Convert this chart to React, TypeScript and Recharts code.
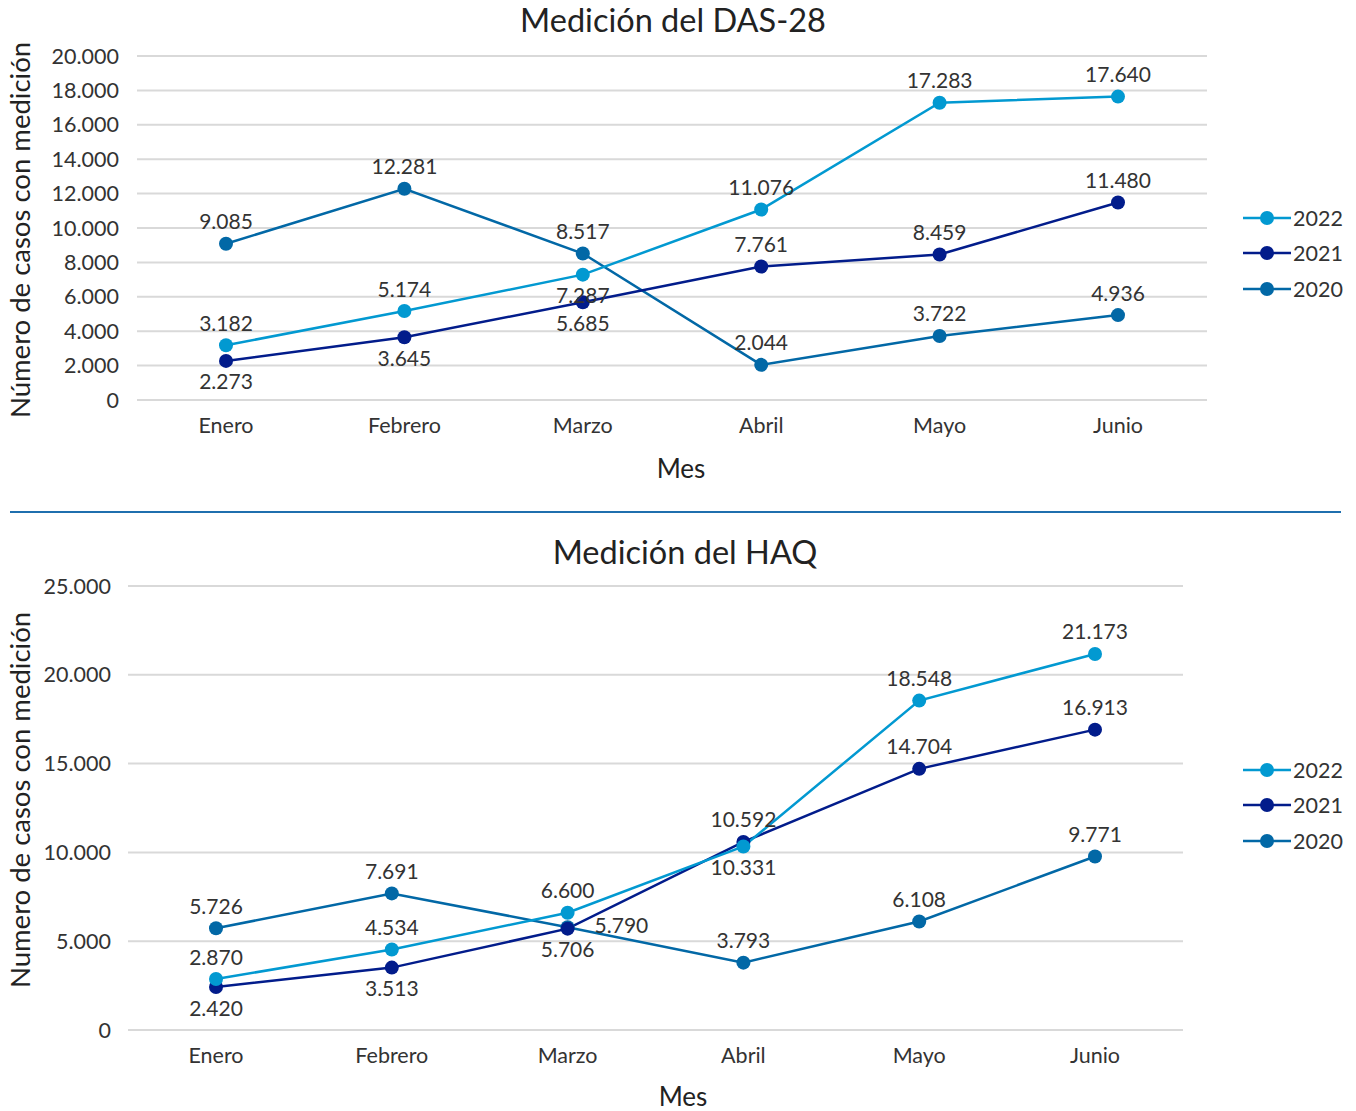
import { LineChart, Line, XAxis, YAxis, CartesianGrid, LabelList } from 'recharts';

// months on the x axis
const months = ['Enero', 'Febrero', 'Marzo', 'Abril', 'Mayo', 'Junio'];

// DAS-28
const das2022 = [3182, 5174, 7287, 11076, 17283, 17640];
const das2021 = [2273, 3645, 5685, 7761, 8459, 11480];
const das2020 = [9085, 12281, 8517, 2044, 3722, 4936];
const dasTicks = [0, 2000, 4000, 6000, 8000, 10000, 12000, 14000, 16000, 18000, 20000];

// HAQ
const haq2022 = [2870, 4534, 6600, 10331, 18548, 21173];
const haq2021 = [2420, 3513, 5706, 10592, 14704, 16913];
const haq2020 = [5726, 7691, 5790, 3793, 6108, 9771];
const haqTicks = [0, 5000, 10000, 15000, 20000, 25000];

// where each data label sits relative to its point
const dasPlace2022 = ['top', 'top', 'bottom', 'top', 'top', 'top'];
const dasPlace2021 = ['bottom', 'bottom', 'bottom', 'top', 'top', 'top'];
const dasPlace2020 = ['top', 'top', 'top', 'top', 'top', 'top'];
const haqPlace2022 = ['top', 'top', 'top', 'bottom', 'top', 'top'];
const haqPlace2021 = ['bottom', 'bottom', 'bottom', 'top', 'top', 'top'];
const haqPlace2020 = ['top', 'top', 'right', 'top', 'top', 'top'];

const C2022 = '#0299d1';
const C2021 = '#021c8b';
const C2020 = '#0268a6';
const FONT = 'Lato, "Open Sans", sans-serif';
const TEXT = '#333333';
const FS = 21.5;

const fmt = (v: number) => String(v).replace(/\B(?=(\d{3})+(?!\d))/g, '.');

function makeLabel(places: string[]) {
  return (props: any) => {
    const { x, y, value, index } = props;
    const p = places[index];
    let tx = x;
    let ty = y - 23;
    let anchor = 'middle';
    if (p === 'bottom') ty = y + 20;
    if (p === 'right') {
      tx = x + 27;
      ty = y - 3;
      anchor = 'start';
    }
    return (
      <text x={tx} y={ty} textAnchor={anchor} dominantBaseline="central" fontSize={21} fill={TEXT} fontFamily={FONT}>
        {fmt(value)}
      </text>
    );
  };
}

function buildRows(a: number[], b: number[], c: number[]) {
  return months.map((m, i) => ({ month: m, y2022: a[i], y2021: b[i], y2020: c[i] }));
}

interface ChartProps {
  rows: any[];
  ticks: number[];
  places: string[][];
  height: number;
  margin: { top: number; right: number; bottom: number; left: number };
  yWidth: number;
  yTickMargin: number;
  pad: number;
}

function MeasureChart({ rows, ticks, places, height, margin, yWidth, yTickMargin, pad }: ChartProps) {
  const series = [
    { key: 'y2020', color: C2020, place: places[2] },
    { key: 'y2021', color: C2021, place: places[1] },
    { key: 'y2022', color: C2022, place: places[0] },
  ];
  return (
    <LineChart width={1356} height={height} data={rows} margin={margin}>
      <CartesianGrid vertical={false} stroke="#d9d9d9" strokeWidth={2} />
      <XAxis
        dataKey="month"
        height={30}
        axisLine={false}
        tickLine={false}
        tickSize={0}
        tickMargin={18}
        padding={{ left: pad, right: pad }}
        tick={{ fill: TEXT, fontSize: FS, fontFamily: FONT }}
      />
      <YAxis
        width={yWidth}
        domain={[0, ticks[ticks.length - 1]]}
        ticks={ticks}
        axisLine={false}
        tickLine={false}
        tickSize={0}
        tickMargin={yTickMargin}
        tickFormatter={fmt}
        tick={{ fill: TEXT, fontSize: FS, fontFamily: FONT }}
      />
      {series.map((s) => (
        <Line
          key={s.key}
          dataKey={s.key}
          stroke={s.color}
          strokeWidth={2.5}
          dot={{ r: 7, fill: s.color, stroke: s.color, strokeWidth: 0 }}
          activeDot={false}
          isAnimationActive={false}
        >
          <LabelList dataKey={s.key} content={makeLabel(s.place)} />
        </Line>
      ))}
    </LineChart>
  );
}

function LegendBox({ top }: { top: number }) {
  const items = [
    { name: '2022', color: C2022 },
    { name: '2021', color: C2021 },
    { name: '2020', color: C2020 },
  ];
  return (
    <div style={{ position: 'absolute', left: 1243, top, fontFamily: FONT }}>
      {items.map((it) => (
        <div key={it.name} style={{ display: 'flex', alignItems: 'center', height: 35.5 }}>
          <svg width={48} height={16}>
            <line x1={0} y1={8} x2={48} y2={8} stroke={it.color} strokeWidth={2.5} />
            <circle cx={24} cy={8} r={7} fill={it.color} />
          </svg>
          <span style={{ fontSize: FS, color: TEXT, marginLeft: 2 }}>{it.name}</span>
        </div>
      ))}
    </div>
  );
}

const titleStyle: any = { position: 'absolute', fontFamily: FONT, fontSize: 32.5, lineHeight: 1, color: '#222', whiteSpace: 'nowrap' };
const axisTitle: any = { position: 'absolute', fontFamily: FONT, fontSize: 26, lineHeight: 1, color: '#222', whiteSpace: 'nowrap' };
const yTitle: any = { position: 'absolute', fontFamily: FONT, fontSize: 27.5, lineHeight: 1, color: '#222', whiteSpace: 'nowrap' };

export default function App() {
  const dasRows = buildRows(das2022, das2021, das2020);
  const haqRows = buildRows(haq2022, haq2021, haq2020);
  return (
    <div style={{ position: 'absolute', left: 0, top: 0, width: 1356, height: 1111, background: '#fff' }}>
      <div style={{ position: 'absolute', left: 0, top: 0 }}>
        <MeasureChart
          rows={dasRows}
          ticks={dasTicks}
          places={[dasPlace2022, dasPlace2021, dasPlace2020]}
          height={500}
          margin={{ top: 56, right: 149, bottom: 70, left: 17 }}
          yWidth={120}
          yTickMargin={18}
          pad={89}
        />
      </div>
      <div style={{ ...titleStyle, left: 673, top: 20, transform: 'translate(-50%, -50%)' }}>Medición del DAS-28</div>
      <div style={{ ...axisTitle, left: 681, top: 468, transform: 'translate(-50%, -50%)' }}>Mes</div>
      <div style={{ ...yTitle, left: 20, top: 230, transform: 'translate(-50%, -50%) rotate(-90deg)' }}>
        Número de casos con medición
      </div>
      <LegendBox top={200} />

      <div style={{ position: 'absolute', left: 10, top: 511, width: 1331, height: 2, background: '#1f6fae' }} />

      <div style={{ position: 'absolute', left: 0, top: 530 }}>
        <MeasureChart
          rows={haqRows}
          ticks={haqTicks}
          places={[haqPlace2022, haqPlace2021, haqPlace2020]}
          height={581}
          margin={{ top: 56, right: 173, bottom: 51, left: 17 }}
          yWidth={111}
          yTickMargin={17}
          pad={88}
        />
      </div>
      <div style={{ ...titleStyle, left: 685, top: 552, transform: 'translate(-50%, -50%)' }}>Medición del HAQ</div>
      <div style={{ ...axisTitle, left: 683, top: 1096, transform: 'translate(-50%, -50%)' }}>Mes</div>
      <div style={{ ...yTitle, left: 20, top: 800, transform: 'translate(-50%, -50%) rotate(-90deg)' }}>
        Numero de casos con medición
      </div>
      <LegendBox top={752} />
    </div>
  );
}
